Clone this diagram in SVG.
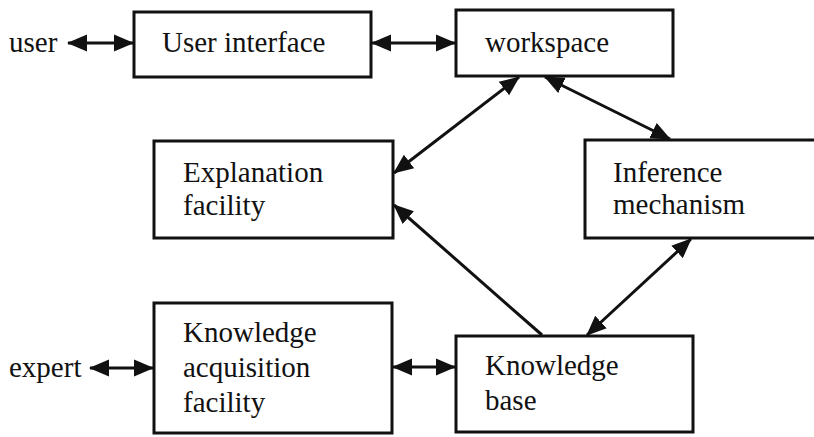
<svg xmlns="http://www.w3.org/2000/svg" width="814" height="437" viewBox="0 0 814 437">
  <style>
    .box { fill: #fff; stroke: #111; stroke-width: 3; }
    .link { stroke: #111; stroke-width: 3; fill: none; }
    .both { marker-start: url(#head); marker-end: url(#head); }
    .one { marker-end: url(#head); }
  </style>
  <defs>
    <!-- solid triangular head, drawn in user units so every arrow gets the same size -->
    <marker id="head" viewBox="0 0 20 20" refX="19" refY="10" markerWidth="20" markerHeight="20" markerUnits="userSpaceOnUse" orient="auto-start-reverse">
      <path d="M0,1.5 L20,10 L0,18.5 z" fill="#111"/>
    </marker>
  </defs>

  <rect width="814" height="437" fill="#fff"/>

  <g font-family="Liberation Serif" font-size="29" fill="#111">
    <text x="9" y="52">user</text>
    <text x="9" y="377">expert</text>
  </g>

  <g id="user-interface" font-family="Liberation Serif" font-size="29" fill="#111">
    <rect class="box" x="134" y="12" width="237" height="65"/>
    <text x="162" y="52">User interface</text>
  </g>

  <g id="workspace" font-family="Liberation Serif" font-size="29" fill="#111">
    <rect class="box" x="456" y="10" width="217" height="66"/>
    <text x="485" y="52">workspace</text>
  </g>

  <g id="explanation-facility" font-family="Liberation Serif" font-size="29" fill="#111">
    <rect class="box" x="154" y="141" width="239" height="97"/>
    <text x="183" y="182">Explanation</text>
    <text x="183" y="215">facility</text>
  </g>

  <g id="inference-mechanism" font-family="Liberation Serif" font-size="29" fill="#111">
    <rect class="box" x="585" y="140" width="240" height="98"/>
    <text x="613" y="182">Inference</text>
    <text x="613" y="214">mechanism</text>
  </g>

  <g id="knowledge-acquisition" font-family="Liberation Serif" font-size="29" fill="#111">
    <rect class="box" x="154" y="303" width="238" height="130"/>
    <text x="183" y="342">Knowledge</text>
    <text x="183" y="377">acquisition</text>
    <text x="183" y="412">facility</text>
  </g>

  <g id="knowledge-base" font-family="Liberation Serif" font-size="29" fill="#111">
    <rect class="box" x="456" y="336" width="237" height="96"/>
    <text x="485" y="375">Knowledge</text>
    <text x="485" y="410">base</text>
  </g>

  <g id="connectors">
    <line class="link both" x1="68" y1="43" x2="133" y2="43"/>
    <line class="link both" x1="372" y1="43" x2="455" y2="43"/>
    <line class="link both" x1="90" y1="368" x2="153" y2="368"/>
    <line class="link both" x1="393" y1="367" x2="455" y2="367"/>
    <line class="link both" x1="519" y1="77" x2="394" y2="173"/>
    <line class="link both" x1="545" y1="77" x2="670" y2="139"/>
    <line class="link one" x1="542" y1="335" x2="394" y2="205"/>
    <line class="link both" x1="691" y1="239" x2="587" y2="335"/>
  </g>
</svg>
